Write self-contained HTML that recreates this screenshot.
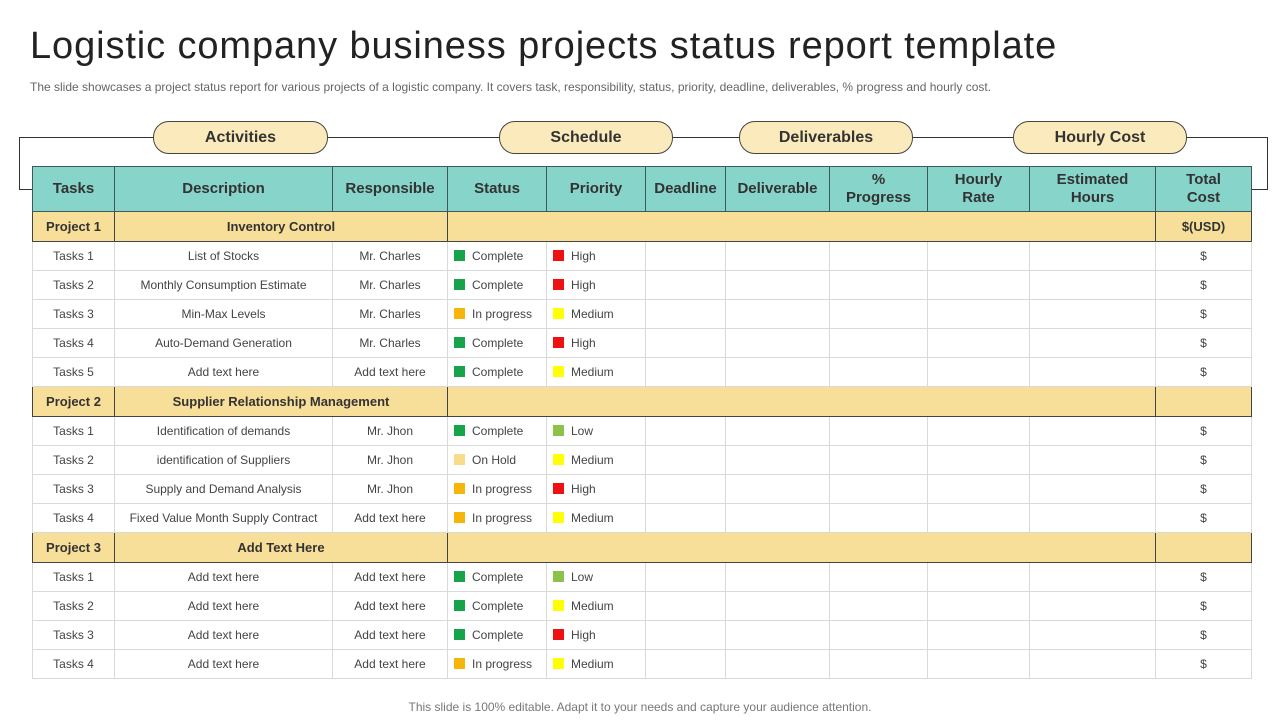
<!DOCTYPE html>
<html><head><meta charset="utf-8"><style>
body{margin:0;width:1280px;height:720px;background:#fff;font-family:"Liberation Sans",sans-serif;position:relative;overflow:hidden}
.title{position:absolute;left:30px;top:25px;font-size:38px;color:#222;letter-spacing:0.9px}
.sub{position:absolute;left:30px;top:80px;font-size:12px;color:#666}
.foot{position:absolute;left:0;width:1280px;top:700px;text-align:center;font-size:12px;color:#777}
.line{position:absolute;background:#333}
.pill{position:absolute;top:121px;height:31px;border:1px solid #444;border-radius:16px;background:#fbeabb;font-size:16px;font-weight:bold;color:#333;text-align:center;line-height:31px}
table{position:absolute;left:32px;top:166px;border-collapse:collapse;table-layout:fixed}
td{font-size:12px;color:#444;text-align:center;border:1px solid #d9d9d9;height:28px;padding:0;white-space:nowrap}
tr.h td{background:#86d4ca;border:1px solid #3d5a57;font-size:15px;font-weight:bold;color:#333;height:44px;line-height:18px}
tr.p td{background:#f8df99;border:1px solid #444;font-size:13px;font-weight:bold;color:#333;height:29px}
td.s{text-align:left;padding-left:6px}
.sq{display:inline-block;width:11px;height:11px;margin-right:7px;vertical-align:-1px}
</style></head><body>
<div class="title">Logistic company business projects status report template</div>
<div class="sub">The slide showcases a project status report for various projects of a logistic company. It covers task, responsibility, status, priority, deadline, deliverables, % progress and hourly cost.</div>
<div class="line" style="left:19px;top:137px;width:1248px;height:1px"></div>
<div class="line" style="left:19px;top:137px;width:1px;height:53px"></div>
<div class="line" style="left:19px;top:189px;width:14px;height:1px"></div>
<div class="line" style="left:1267px;top:137px;width:1px;height:53px"></div>
<div class="line" style="left:1251px;top:189px;width:16px;height:1px"></div>
<div class="pill" style="left:153px;width:173px">Activities</div>
<div class="pill" style="left:499px;width:172px">Schedule</div>
<div class="pill" style="left:739px;width:172px">Deliverables</div>
<div class="pill" style="left:1013px;width:172px">Hourly Cost</div>
<table id="t">
<colgroup><col style="width:82px"><col style="width:218px"><col style="width:115px"><col style="width:99px"><col style="width:99px"><col style="width:80px"><col style="width:104px"><col style="width:98px"><col style="width:102px"><col style="width:126px"><col style="width:96px"></colgroup>
<tr class="h"><td>Tasks</td><td>Description</td><td>Responsible</td><td>Status</td><td>Priority</td><td>Deadline</td><td>Deliverable</td><td>%<br>Progress</td><td>Hourly<br>Rate</td><td>Estimated<br>Hours</td><td>Total<br>Cost</td></tr>
</table>
<div class="foot">This slide is 100% editable. Adapt it to your needs and capture your audience attention.</div>
<script>
const SC={"Complete":"#16a34a","In progress":"#f5b50a","On Hold":"#f8dc8a"};
const PC={"High":"#ee1111","Medium":"#ffff00","Low":"#8bc34a"};
const projects=[
["Project 1","Inventory Control","$(USD)",[["Tasks 1","List of Stocks","Mr. Charles","Complete","High"],["Tasks 2","Monthly Consumption Estimate","Mr. Charles","Complete","High"],["Tasks 3","Min-Max Levels","Mr. Charles","In progress","Medium"],["Tasks 4","Auto-Demand Generation","Mr. Charles","Complete","High"],["Tasks 5","Add text here","Add text here","Complete","Medium"]]],
["Project 2","Supplier Relationship Management","",[["Tasks 1","Identification of  demands","Mr. Jhon","Complete","Low"],["Tasks 2","identification of Suppliers","Mr. Jhon","On Hold","Medium"],["Tasks 3","Supply and Demand Analysis","Mr. Jhon","In progress","High"],["Tasks 4","Fixed Value Month Supply Contract","Add text here","In progress","Medium"]]],
["Project 3","Add Text Here","",[["Tasks 1","Add text here","Add text here","Complete","Low"],["Tasks 2","Add text here","Add text here","Complete","Medium"],["Tasks 3","Add text here","Add text here","Complete","High"],["Tasks 4","Add text here","Add text here","In progress","Medium"]]]];
const t=document.getElementById('t');
projects.forEach(p=>{
 let r=t.insertRow();r.className='p';
 
 
 r.innerHTML=`<td>${p[0]}</td><td colspan="2">${p[1]}</td><td colspan="7"></td><td>${p[2]}</td>`;
 p[3].forEach(k=>{
  let tr=t.insertRow();
  
  
  tr.innerHTML=`<td>${k[0]}</td><td>${k[1]}</td><td>${k[2]}</td><td class="s"><span class="sq" style="background:${SC[k[3]]}"></span>${k[3]}</td><td class="s"><span class="sq" style="background:${PC[k[4]]}"></span>${k[4]}</td><td></td><td></td><td></td><td></td><td></td><td>$</td>`;
 });
});
</script>
</body></html>
